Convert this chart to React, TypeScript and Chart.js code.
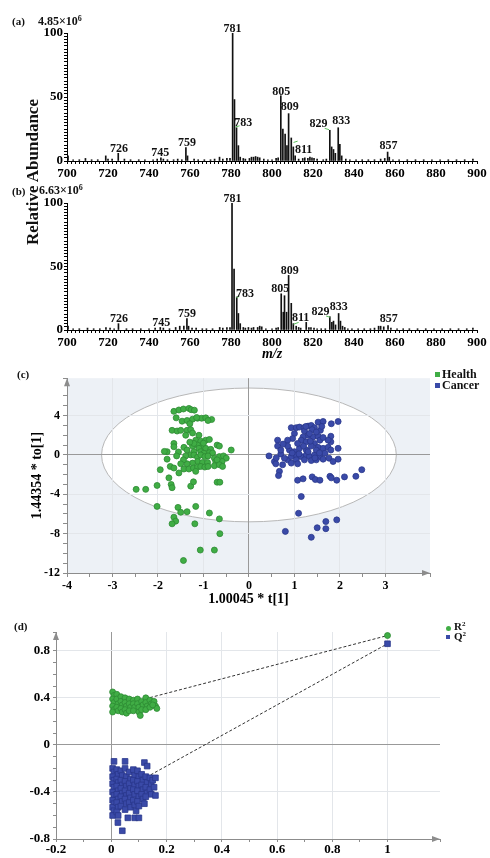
import React, { useEffect, useRef } from "react";
import { Chart, registerables } from "chart.js";
Chart.register(...registerables);

const SERIF = '"Liberation Serif", "Times New Roman", serif';

// ---------------- (a) spectrum: [m/z, relative abundance] ----------------
const aPeaks = [
  [700.5, 4], [718.9, 4], [725, 6], [745.8, 2.5], [758, 10.5], [758.8, 4], [774.4, 3],
  [780.8, 100], [781.7, 48], [782.7, 26], [783.6, 12], [784.5, 3],
  [804.3, 51], [805.3, 25], [806.4, 21], [807.3, 12], [808.1, 37], [809.4, 18], [810.4, 11], [811.3, 4],
  [828.2, 24], [829.1, 11], [830.0, 9], [830.9, 6], [832.3, 26], [833.1, 13], [834.0, 4],
  [856.4, 7], [857.2, 3],
];
const aNoise = [
  [703, 1], [706, 1], [709, 2], [712, 1], [715, 1], [720, 1.5], [722, 1.5], [728, 1.5], [731, 1], [735, 1],
  [738, 1], [742, 1], [744, 1.5], [747, 1.5], [749, 1], [752, 1], [754, 1.5], [756, 1], [762, 1.5], [764, 1],
  [767, 1], [770, 1], [772, 1.5], [776, 1.5], [778, 2], [779.5, 2], [786, 2], [787, 1.5], [789, 2], [790, 3],
  [791, 3], [792, 3.5], [793, 3], [794, 2.5], [796, 1.5], [798, 1], [800, 1], [802, 2], [803, 2.5], [813, 1.5],
  [815, 2], [816, 2.5], [817.5, 2], [818.5, 3], [819.5, 2.5], [820.5, 2], [822, 1.5], [825, 1], [826.5, 1.5],
  [836, 1.5], [838, 1], [841, 1], [844, 1], [847, 1], [850, 1], [853, 1.5], [855, 2], [859, 1], [862, 1],
  [866, 1], [870, 1], [874, 1], [878, 1], [882, 1], [886, 1], [890, 1], [894, 1], [898, 1.5],
];
const peakLabelText = ["726", "745", "759", "781", "783", "805", "809", "811", "829", "833", "857"];
const aLabelMz = [725.4, 745.5, 758.5, 780.7, 786, 804.5, 808.7, 815.4, 822.7, 833.8, 856.8];
const aLabelY = [7.3, 3.9, 11.7, 101, 27.3, 51.5, 39.8, 6.5, 26.8, 28.7, 9.1];
const aLeaders = [[782.2, 26.6, 784.2, 27.5], [810.5, 14.5, 812.5, 15.5], [825.7, 25.5, 827.8, 24.5]];

// ---------------- (b) spectrum ----------------
const bPeaks = [
  [700.5, 3], [719, 2], [725.1, 5], [745.5, 2], [755, 3], [757, 3], [758.5, 9], [759.3, 3], [774.5, 2],
  [780.5, 100], [781.5, 48], [782.8, 26], [783.6, 13], [784.5, 5],
  [804.5, 28.5], [805.5, 14], [806.1, 27], [807.1, 14], [808.1, 43], [809.4, 21], [810.4, 5], [811.8, 3],
  [816.7, 6], [828.2, 10.5], [829.2, 6], [830.0, 7], [831.0, 4], [832.5, 13], [833.4, 7], [834.4, 3],
  [852, 3], [853, 3], [854.5, 2.5], [856.6, 3.5],
];
const bNoise = [
  [703, 1], [706, 1], [710, 1.5], [713, 1], [716, 1], [721, 1.5], [723, 1], [729, 1], [732, 1], [736, 1],
  [740, 1], [743, 1.5], [747, 1.5], [750, 1], [753, 2], [761, 1.5], [763, 1.5], [766, 1], [768, 1], [771, 1],
  [776, 1.5], [778, 2], [779.5, 2], [786, 2], [787, 1.5], [788.5, 2], [790, 1.5], [791, 2], [793, 2], [794, 3],
  [795, 2.5], [797, 1], [800, 1], [802, 1.5], [803, 2], [813, 2], [814, 1.5], [818, 2], [819, 2], [820.5, 1.5],
  [822, 1], [824, 1], [826, 1], [835.5, 2], [837, 1], [839, 1], [842, 1], [845, 1], [848, 1], [850, 1.5],
  [858, 1.5], [861, 1], [864, 1], [867, 1], [871, 1], [875, 1], [879, 1], [883, 1], [887, 1], [891, 1],
  [895, 1], [898, 1.5],
];
const bLabelMz = [725.4, 746, 758.5, 780.7, 786.8, 804, 808.7, 814, 823.7, 832.5, 856.9];
const bLabelY = [6.5, 3.1, 10.5, 101, 26.2, 30.2, 44, 7.3, 11.8, 15.7, 6.5];
const bLeaders = [[782.6, 25.5, 784.1, 26.5], [810.5, 4.5, 813, 6], [826.4, 11, 828.4, 10]];

// ---------------- (c) OPLS-DA scores: [t1, to1] ----------------
const healthPts = [
  [-1.65, 4.43], [-1.54, 4.57], [-1.44, 4.67], [-1.32, 4.73], [-1.27, 4.6], [-1.2, 4.55],
  [-1.6, 3.77], [-1.47, 3.43], [-1.36, 3.5], [-1.24, 3.63], [-1.13, 3.73], [-1.04, 3.73], [-0.95, 3.77], [-0.82, 3.6], [-1.3, 3.17], [-1.15, 3.8], [-0.9, 3.5],
  [-1.69, 2.5], [-1.58, 2.43], [-1.5, 2.5], [-1.36, 2.5], [-1.28, 2.57], [-1.24, 2.23], [-1.39, 2.0], [-1.1, 2.0],
  [-1.17, 1.5], [-1.06, 1.4], [-0.95, 1.5], [-0.87, 1.57], [-0.7, 1.0], [-0.65, 0.9], [-1.65, 1.17], [-1.65, 0.83], [-1.43, 0.77],
  [-1.36, 0.5], [-1.24, 0.9], [-1.13, 1.0], [-1.02, 0.83], [-0.95, 0.67], [-0.84, 0.57], [-0.39, 0.5], [-1.8, 0.33], [-1.86, 0.36],
  [-1.21, 1.17], [-1.1, 0.67], [-1.06, 0.33], [-1.21, 0.33], [-1.28, 0], [-0.87, 0.23], [-0.99, 0.17], [-1.0, 1.2], [-0.8, 0.2], [-1.3, 1.3], [-1.55, 0.3],
  [-1.8, -0.43], [-1.59, -0.1], [-1.39, -0.1], [-1.21, 0], [-1.13, -0.23], [-1.06, 0], [-0.97, -0.17], [-0.9, -0.1], [-0.76, -0.33],
  [-0.65, -0.17], [-0.56, -0.1], [-0.5, -0.33], [-0.59, -0.67], [-0.73, -0.67], [-0.7, -0.5],
  [-1.13, -0.67], [-1.02, -0.77], [-0.91, -0.77], [-1.24, -0.83], [-1.36, -0.9], [-1.44, -0.5], [-1.5, -0.9],
  [-1.73, -1.17], [-1.65, -1.33], [-1.43, -1.43], [-1.32, -1.43], [-1.22, -1.33], [-1.13, -1.23], [-1.06, -1.17], [-0.97, -1.23],
  [-0.9, -1.17], [-0.76, -1.1], [-0.65, -1.0], [-0.58, -1.17], [-1.17, -1.67], [-1.54, -1.83], [-1.95, -1.5],
  [-1.76, -2.33], [-1.71, -3.0], [-1.69, -3.33], [-1.28, -3.17], [-1.22, -2.73], [-0.7, -2.77], [-0.64, -2.77], [-2.02, -3.1], [-2.48, -3.5], [-2.27, -3.5],
  [-2.02, -5.23], [-1.56, -5.33], [-1.5, -5.83], [-1.36, -5.77], [-1.17, -5.23], [-0.87, -5.9], [-0.65, -6.5], [-1.65, -6.33], [-1.61, -6.73],
  [-1.69, -7.0], [-1.19, -7.0], [-0.64, -8.0], [-1.07, -9.67], [-0.76, -9.67], [-1.44, -10.73],
];
const cancerPts = [
  [0.93, 2.77], [1.04, 2.77], [1.11, 2.83], [1.21, 2.77], [1.3, 2.93], [1.37, 3.0], [1.44, 2.77], [1.52, 3.33], [1.63, 3.4], [1.81, 3.17], [1.96, 3.4],
  [1.57, 2.5], [1.39, 2.57], [1.22, 2.43], [1.0, 2.17], [1.3, 2.0], [1.41, 1.83], [1.52, 1.9], [1.19, 1.83], [0.96, 1.67], [0.85, 1.5], [0.63, 1.5],
  [0.63, 0.9], [1.8, 1.9], [1.8, 1.33], [1.56, 1.5], [1.44, 1.17], [1.37, 0.9], [1.11, 0.67], [1.52, 0.77], [1.63, 0.67], [1.74, 0.77], [1.8, 0.5],
  [1.96, 0.67], [0.89, 0.5], [1.0, 0.33], [1.26, 0.5], [0.7, 0.1], [0.44, -0.1], [0.56, -0.67], [0.59, -0.9], [0.74, -1.0], [0.85, -0.5],
  [0.93, -0.17], [1.04, 0], [1.15, -0.17], [1.26, 0], [1.33, -0.17], [1.44, 0], [1.56, -0.17], [1.63, -0.43], [1.76, -0.33], [1.85, -0.67], [1.96, -0.43],
  [0.78, -0.33], [1.04, -0.5], [1.22, -0.5], [1.37, -0.57], [1.48, -0.5], [0.93, -0.83], [1.07, -0.9], [1.3, 0.33], [1.48, 0.5], [1.15, 1.5],
  [1.26, 1.33], [1.07, 1.17], [0.85, 0.9], [0.7, 0.5], [1.67, 0.17], [1.74, 1.5], [1.33, 2.17], [1.48, 2.33], [1.63, 1.77],
  [0.95, 0.2], [1.1, 0.1], [1.2, 0.9], [1.35, 1.4], [1.55, 0.2], [1.45, -0.3], [1.6, 2.9], [1.25, 2.9], [0.75, 1.1], [0.6, -0.3],
  [0.67, -1.67], [0.65, -2.1], [1.07, -2.57], [1.19, -2.43], [1.39, -2.23], [1.46, -2.5], [1.56, -2.57], [1.78, -2.17], [1.81, -2.33],
  [1.93, -2.57], [2.1, -2.23], [2.35, -2.17], [2.48, -1.5], [1.15, -4.23], [1.09, -5.93], [1.93, -6.6], [1.69, -6.77], [1.5, -7.4],
  [1.69, -7.5], [0.8, -7.77], [1.37, -8.37],
];
const ellipseRx = 3.24;
const ellipseRy = 6.8;

// ---------------- (d) permutation test: [correlation, value] ----------------
const r2Pts = [
  [0.005, 0.45], [0.01, 0.42], [0.005, 0.39], [0.01, 0.36], [0.005, 0.33], [0.01, 0.3], [0.005, 0.28],
  [0.02, 0.43], [0.02, 0.39], [0.025, 0.35], [0.02, 0.32], [0.025, 0.29],
  [0.035, 0.41], [0.035, 0.37], [0.04, 0.34], [0.035, 0.31], [0.04, 0.28],
  [0.05, 0.4], [0.05, 0.36], [0.055, 0.33], [0.05, 0.3], [0.055, 0.27],
  [0.065, 0.39], [0.065, 0.35], [0.07, 0.32], [0.065, 0.29],
  [0.08, 0.38], [0.08, 0.35], [0.085, 0.32], [0.08, 0.29],
  [0.095, 0.39], [0.095, 0.35], [0.1, 0.32], [0.1, 0.28], [0.105, 0.25],
  [0.11, 0.37], [0.115, 0.34], [0.11, 0.3],
  [0.125, 0.4], [0.125, 0.36], [0.13, 0.33], [0.125, 0.3],
  [0.14, 0.38], [0.145, 0.35], [0.14, 0.32],
  [0.155, 0.37], [0.16, 0.33], [0.165, 0.31], [0.15, 0.34],
  [1, 0.93],
];
const q2Pts = [
  [0.01, -0.14], [0.05, -0.14], [0.12, -0.15], [0.13, -0.18],
  [0.005, -0.2], [0.01, -0.23], [0.005, -0.27], [0.01, -0.3], [0.005, -0.33], [0.01, -0.36], [0.005, -0.4], [0.01, -0.43],
  [0.005, -0.47], [0.01, -0.5], [0.005, -0.53], [0.01, -0.56], [0.005, -0.6],
  [0.02, -0.21], [0.025, -0.25], [0.02, -0.29], [0.025, -0.32], [0.02, -0.35], [0.025, -0.39], [0.02, -0.42], [0.025, -0.46],
  [0.02, -0.49], [0.025, -0.53], [0.02, -0.57], [0.025, -0.6], [0.024, -0.66], [0.04, -0.73],
  [0.035, -0.22], [0.04, -0.26], [0.035, -0.3], [0.04, -0.34], [0.035, -0.37], [0.04, -0.41], [0.035, -0.44], [0.04, -0.48], [0.035, -0.52],
  [0.05, -0.2], [0.055, -0.27], [0.05, -0.31], [0.055, -0.35], [0.05, -0.39], [0.055, -0.43], [0.05, -0.46], [0.055, -0.5], [0.05, -0.55], [0.06, -0.62],
  [0.065, -0.23], [0.07, -0.29], [0.065, -0.33], [0.07, -0.37], [0.065, -0.41], [0.07, -0.45], [0.065, -0.49], [0.07, -0.53],
  [0.08, -0.21], [0.085, -0.26], [0.08, -0.3], [0.085, -0.34], [0.08, -0.38], [0.085, -0.42], [0.08, -0.47], [0.085, -0.51],
  [0.09, -0.56], [0.085, -0.62], [0.1, -0.62],
  [0.095, -0.22], [0.1, -0.27], [0.095, -0.31], [0.1, -0.35], [0.095, -0.39], [0.1, -0.44], [0.095, -0.48], [0.1, -0.52],
  [0.11, -0.25], [0.115, -0.3], [0.11, -0.34], [0.115, -0.38], [0.11, -0.42], [0.115, -0.46], [0.12, -0.5],
  [0.125, -0.27], [0.13, -0.32], [0.125, -0.36], [0.13, -0.41], [0.125, -0.44],
  [0.14, -0.28], [0.145, -0.33], [0.14, -0.38], [0.145, -0.42], [0.15, -0.3], [0.155, -0.36], [0.16, -0.43], [0.16, -0.28],
  [1, 0.86],
];
const r2Line = [[0, 0.316], [1, 0.93]];
const q2Line = [[0, -0.44], [1, 0.86]];

// ---------------- helpers ----------------
const toXY = (arr: number[][]) => arr.map(([x, y]) => ({ x, y }));
const isMult = (v: number, s: number) => Math.abs(v / s - Math.round(v / s)) < 1e-6;
const fmt1 = (v: number) => String(Math.round(v * 10) / 10);
const tickFont = (size: number) => ({ family: SERIF, size, weight: "bold" as const });

function spectrumConfig(
  peaks: number[][], noise: number[][], labelMz: number[], labelY: number[], leaders: number[][],
  padTop: number, xHeight: number, withTitle: boolean
): any {
  const labelPlugin = {
    id: "peakLabels",
    afterDatasetsDraw(chart: any) {
      const { ctx, scales } = chart;
      const x = scales.x, y = scales.y;
      ctx.save();
      ctx.strokeStyle = "#5cbf5c";
      ctx.lineWidth = 1;
      leaders.forEach(([x1, y1, x2, y2]) => {
        ctx.beginPath();
        ctx.moveTo(x.getPixelForValue(x1), y.getPixelForValue(y1));
        ctx.lineTo(x.getPixelForValue(x2), y.getPixelForValue(y2));
        ctx.stroke();
      });
      ctx.fillStyle = "#111";
      ctx.font = `bold 12px ${SERIF}`;
      ctx.textAlign = "center";
      ctx.textBaseline = "alphabetic";
      peakLabelText.forEach((t, i) => {
        ctx.fillText(t, x.getPixelForValue(labelMz[i]), y.getPixelForValue(labelY[i]));
      });
      ctx.restore();
    },
  };
  return {
    type: "bar",
    data: {
      datasets: [
        {
          data: toXY(peaks.concat(noise)),
          backgroundColor: "#111",
          borderWidth: 0,
          barThickness: 1,
        },
      ],
    },
    options: {
      animation: false,
      responsive: false,
      layout: { padding: { top: padTop, left: 0, right: 13, bottom: 0 } },
      plugins: { legend: { display: false }, tooltip: { enabled: false } },
      scales: {
        x: {
          type: "linear",
          min: 700,
          max: 900,
          offset: false,
          grid: { display: true, drawOnChartArea: false, drawTicks: true, tickLength: 3, color: "#000", offset: false },
          border: { display: true, color: "#000", width: 1 },
          ticks: {
            stepSize: 2,
            maxTicksLimit: 1000,
            autoSkip: false,
            maxRotation: 0,
            padding: 2,
            color: "#000",
            font: tickFont(13),
            callback: (v: number) => (v % 20 === 0 ? String(v) : ""),
          },
          title: withTitle
            ? { display: true, text: "m/z", color: "#000", font: { family: SERIF, size: 14, weight: "bold", style: "italic" }, padding: { top: 0, bottom: 5 } }
            : { display: false },
          afterFit: (s: any) => { s.height = xHeight; },
        },
        y: {
          min: 0,
          max: 100,
          grid: { display: true, drawOnChartArea: false, drawTicks: true, tickLength: 3, color: "#000" },
          border: { display: true, color: "#000", width: 1 },
          ticks: {
            stepSize: 2.5,
            maxTicksLimit: 1000,
            autoSkip: false,
            padding: 1,
            color: "#000",
            font: tickFont(13),
            callback: (v: number) => (v % 50 === 0 ? String(v) : ""),
          },
          afterFit: (s: any) => { s.width = 67; },
        },
      },
    },
    plugins: [labelPlugin],
  };
}

const axisArrows = {
  id: "axisArrows",
  afterDraw(chart: any) {
    const { ctx, chartArea: a } = chart;
    ctx.save();
    ctx.fillStyle = "#8c8c8c";
    ctx.beginPath();
    ctx.moveTo(a.right, a.bottom);
    ctx.lineTo(a.right - 8, a.bottom - 3);
    ctx.lineTo(a.right - 8, a.bottom + 3);
    ctx.closePath();
    ctx.fill();
    ctx.beginPath();
    ctx.moveTo(a.left, a.top);
    ctx.lineTo(a.left - 3, a.top + 8);
    ctx.lineTo(a.left + 3, a.top + 8);
    ctx.closePath();
    ctx.fill();
    ctx.restore();
  },
};

const ellipseBg = {
  id: "ellipseBg",
  beforeDraw(chart: any) {
    const { ctx, chartArea: a, scales } = chart;
    const x = scales.x, y = scales.y;
    ctx.save();
    ctx.fillStyle = "#edf1f6";
    ctx.fillRect(a.left, a.top, a.right - a.left, a.bottom - a.top);
    const cx = x.getPixelForValue(0), cy = y.getPixelForValue(0);
    const rx = Math.abs(x.getPixelForValue(ellipseRx) - cx);
    const ry = Math.abs(y.getPixelForValue(ellipseRy) - cy);
    ctx.beginPath();
    ctx.ellipse(cx, cy, rx, ry, 0, 0, Math.PI * 2);
    ctx.fillStyle = "#ffffff";
    ctx.fill();
    ctx.strokeStyle = "#b8b8b8";
    ctx.lineWidth = 1;
    ctx.stroke();
    ctx.restore();
  },
};

function gridColor(major: (v: number) => boolean) {
  return (c: any) => {
    const v = c.tick ? c.tick.value : NaN;
    if (Math.abs(v) < 1e-9) return "#999999";
    if (major(v)) return "#e3e6ea";
    return "rgba(0,0,0,0)";
  };
}

function configA() {
  return spectrumConfig(aPeaks, aNoise, aLabelMz, aLabelY, aLeaders, 33, 19, false);
}
function configB() {
  return spectrumConfig(bPeaks, bNoise, bLabelMz, bLabelY, bLeaders, 23, 38, true);
}

function configC(): any {
  return {
    type: "scatter",
    data: {
      datasets: [
        { label: "Health", data: toXY(healthPts), backgroundColor: "#40ad45", borderColor: "#2d8a33", borderWidth: 0.8, pointRadius: 3 },
        { label: "Cancer", data: toXY(cancerPts), backgroundColor: "#3a4aa8", borderColor: "#2a378c", borderWidth: 0.8, pointRadius: 3 },
      ],
    },
    options: {
      animation: false,
      responsive: false,
      layout: { padding: { top: 9, left: 0, right: 60, bottom: 0 } },
      plugins: { legend: { display: false }, tooltip: { enabled: false } },
      scales: {
        x: {
          type: "linear",
          min: -4,
          max: 3.98,
          grid: { color: gridColor((v) => isMult(v, 1)), tickColor: "#8c8c8c", tickLength: 4 },
          border: { display: true, color: "#8c8c8c" },
          ticks: {
            stepSize: 0.5,
            maxTicksLimit: 1000,
            autoSkip: false,
            maxRotation: 0,
            padding: 2,
            color: "#000",
            font: tickFont(12),
            callback: (v: number) => (isMult(v, 1) ? String(Math.round(v)) : ""),
          },
          title: { display: true, text: "1.00045 * t[1]", color: "#000", font: { family: SERIF, size: 14, weight: "bold" }, padding: { top: 0, bottom: 2 } },
          afterFit: (s: any) => { s.height = 37; },
        },
        y: {
          type: "linear",
          min: -12,
          max: 7.8,
          grid: { color: gridColor((v) => isMult(v, 4)), tickColor: "#8c8c8c", tickLength: 4 },
          border: { display: true, color: "#8c8c8c" },
          ticks: {
            stepSize: 1,
            maxTicksLimit: 1000,
            autoSkip: false,
            padding: 3,
            color: "#000",
            font: tickFont(12),
            callback: (v: number) => (isMult(v, 4) ? String(Math.round(v)) : ""),
          },
          title: { display: true, text: "1.44354 * to[1]", color: "#000", font: { family: SERIF, size: 14, weight: "bold" }, padding: { top: 29, bottom: 0 } },
          afterFit: (s: any) => { s.width = 67; },
        },
      },
    },
    plugins: [ellipseBg, axisArrows],
  };
}

function configD(): any {
  return {
    type: "scatter",
    data: {
      datasets: [
        { label: "R2", data: toXY(r2Pts), backgroundColor: "#40ad45", borderColor: "#2d8a33", borderWidth: 0.8, pointRadius: 3, pointStyle: "circle", order: 1 },
        { label: "Q2", data: toXY(q2Pts), backgroundColor: "#3a4aa8", borderColor: "#2a378c", borderWidth: 0.8, pointRadius: 4, pointStyle: "rect", order: 1 },
        { type: "line", label: "R2 line", data: toXY(r2Line), borderColor: "#333", borderWidth: 1, borderDash: [3, 2], pointRadius: 0, showLine: true, fill: false, order: 5 },
        { type: "line", label: "Q2 line", data: toXY(q2Line), borderColor: "#333", borderWidth: 1, borderDash: [3, 2], pointRadius: 0, showLine: true, fill: false, order: 5 },
      ],
    },
    options: {
      animation: false,
      responsive: false,
      layout: { padding: { top: 22, left: 0, right: 50, bottom: 0 } },
      plugins: { legend: { display: false }, tooltip: { enabled: false } },
      scales: {
        x: {
          type: "linear",
          min: -0.2,
          max: 1.19,
          grid: { color: gridColor((v) => isMult(v, 0.2)), tickColor: "#8c8c8c", tickLength: 3 },
          border: { display: true, color: "#8c8c8c" },
          ticks: {
            stepSize: 0.1,
            maxTicksLimit: 1000,
            autoSkip: false,
            maxRotation: 0,
            padding: 0,
            color: "#000",
            font: tickFont(13),
            callback: (v: number) => (isMult(v, 0.2) ? fmt1(v) : ""),
          },
          afterFit: (s: any) => { s.height = 19; },
        },
        y: {
          type: "linear",
          min: -0.8,
          max: 0.96,
          grid: { color: gridColor((v) => isMult(v, 0.4)), tickColor: "#8c8c8c", tickLength: 3 },
          border: { display: true, color: "#8c8c8c" },
          ticks: {
            stepSize: 0.1,
            maxTicksLimit: 1000,
            autoSkip: false,
            padding: 3,
            color: "#000",
            font: tickFont(13),
            callback: (v: number) => (isMult(v, 0.4) ? fmt1(v) : ""),
          },
          afterFit: (s: any) => { s.width = 56; },
        },
      },
    },
    plugins: [axisArrows],
  };
}

function ChartCanvas({ top, height, config }: { top: number; height: number; config: () => any }) {
  const ref = useRef<HTMLCanvasElement>(null);
  useEffect(() => {
    const chart = new Chart(ref.current as HTMLCanvasElement, config());
    return () => chart.destroy();
  }, []);
  return (
    <canvas
      ref={ref}
      width={490}
      height={height}
      style={{ position: "absolute", left: 0, top, width: 490, height, display: "block" }}
    />
  );
}

function Txt({ x, cy, size, children, italic }: { x: number; cy: number; size: number; children: any; italic?: boolean }) {
  return (
    <div
      style={{
        position: "absolute",
        left: x,
        top: cy - size * 0.55,
        fontFamily: SERIF,
        fontWeight: "bold",
        fontStyle: italic ? "italic" : "normal",
        fontSize: size,
        lineHeight: 1,
        whiteSpace: "nowrap",
        color: "#111",
      }}
    >
      {children}
    </div>
  );
}

const sup = (t: string, size: number) => (
  <span style={{ fontSize: size, position: "relative", top: -size * 0.55 }}>{t}</span>
);

export default function App() {
  return (
    <div style={{ position: "absolute", left: 0, top: 0, width: 490, height: 858, background: "#fff", overflow: "hidden" }}>
      <ChartCanvas top={0} height={180} config={configA} />
      <ChartCanvas top={180} height={188} config={configB} />
      <ChartCanvas top={368} height={242} config={configC} />
      <ChartCanvas top={610} height={248} config={configD} />

      <Txt x={12} cy={22} size={11}>(a)</Txt>
      <Txt x={38} cy={22} size={12}>4.85×10{sup("6", 8)}</Txt>
      <Txt x={12} cy={192} size={11}>(b)</Txt>
      <Txt x={39} cy={191} size={12}>6.63×10{sup("6", 8)}</Txt>
      <div
        style={{
          position: "absolute",
          left: 33 - 100,
          top: 172 - 10,
          width: 200,
          height: 20,
          lineHeight: "20px",
          textAlign: "center",
          transform: "rotate(-90deg)",
          fontFamily: SERIF,
          fontWeight: "bold",
          fontSize: 17,
          color: "#111",
          whiteSpace: "nowrap",
        }}
      >
        Relative Abundance
      </div>

      <Txt x={17} cy={375} size={11}>(c)</Txt>
      <div style={{ position: "absolute", left: 435, top: 372, width: 5, height: 5, background: "#40ad45" }} />
      <Txt x={442} cy={375} size={12}>Health</Txt>
      <div style={{ position: "absolute", left: 435, top: 383, width: 5, height: 5, background: "#3a4aa8" }} />
      <Txt x={442} cy={386} size={12}>Cancer</Txt>

      <Txt x={14} cy={627} size={11}>(d)</Txt>
      <div style={{ position: "absolute", left: 445.5, top: 625.5, width: 5, height: 5, borderRadius: 3, background: "#40ad45" }} />
      <Txt x={454} cy={627} size={11}>R{sup("2", 7)}</Txt>
      <div style={{ position: "absolute", left: 446, top: 635, width: 4, height: 4, background: "#3a4aa8" }} />
      <Txt x={454} cy={637} size={11}>Q{sup("2", 7)}</Txt>
    </div>
  );
}
